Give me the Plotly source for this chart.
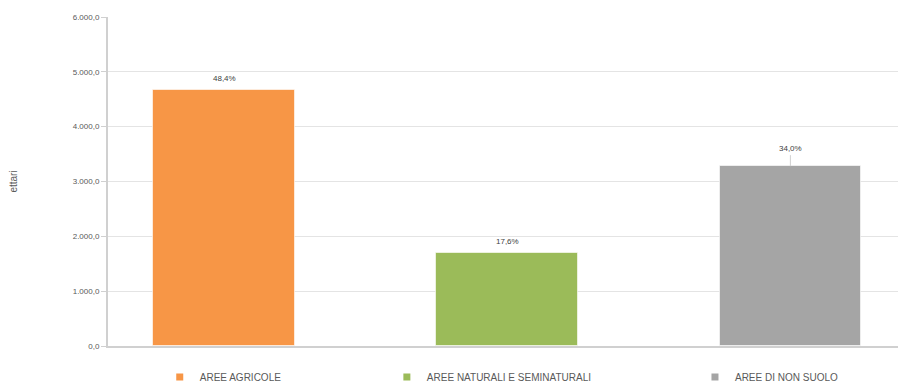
import plotly.graph_objects as go

categories = ["AREE AGRICOLE", "AREE NATURALI E SEMINATURALI", "AREE DI NON SUOLO"]
values = [4670, 1698, 3280]
pct_labels = ["48,4%", "17,6%", "34,0%"]
colors = ["#F79646", "#9BBB59", "#A5A5A5"]
y_ticks = [0, 1000, 2000, 3000, 4000, 5000, 6000]
legend_x = [0.0655, 0.353, 0.743]

FONT = "Liberation Sans, Arial, sans-serif"

fig = go.Figure()
for i, (cat, v, c) in enumerate(zip(categories, values, colors)):
    lg = "legend" if i == 0 else f"legend{i+1}"
    fig.add_trace(go.Bar(
        x=[i], y=[v], name=cat, width=0.5,
        marker=dict(color=c, line=dict(color="rgba(255,255,255,0.6)", width=1)),
        showlegend=False, legendgroup=cat,
    ))
    # legend entry with a small square symbol, as in the reference
    fig.add_trace(go.Scatter(
        x=[None], y=[None], mode="markers", name=cat, legend=lg, legendgroup=cat,
        marker=dict(symbol="square", size=7, color=c), showlegend=True,
    ))
    fig.add_annotation(
        x=i, y=v, text=pct_labels[i], xref="x", yref="y",
        showarrow=(i == 2), arrowhead=0, arrowcolor="#d0d0d0", arrowwidth=1,
        ax=0, ay=-11 if i == 2 else 0, yshift=0 if i == 2 else 11,
        yanchor="bottom" if i == 2 else "middle",
        font=dict(size=8, color="#404040", family=FONT),
    )

legend_common = dict(orientation="h", yanchor="middle", xanchor="left", y=-0.094,
                     font=dict(size=10, color="#595959", family=FONT),
                     bgcolor="rgba(0,0,0,0)", itemwidth=30)
layout_legends = {}
for i in range(3):
    key = "legend" if i == 0 else f"legend{i+1}"
    layout_legends[key] = dict(legend_common, x=legend_x[i])

fig.update_layout(
    width=898, height=384,
    margin=dict(l=108, r=0, t=17, b=38, autoexpand=False),
    plot_bgcolor="white", paper_bgcolor="white",
    separators=",.",
    bargap=0,
    xaxis=dict(range=[-0.41, 2.38], showticklabels=False, showgrid=False,
               zeroline=False, showline=True, linecolor="#d0d0d0", linewidth=2,
               ticks="", automargin=False),
    yaxis=dict(range=[0, 6000], tickvals=y_ticks, tickformat=",.1f",
               showgrid=True, gridcolor="#e4e4e4", gridwidth=1,
               showline=True, linecolor="#d0d0d0", linewidth=2,
               ticks="outside", ticklen=5, tickcolor="#d0d0d0",
               zeroline=False, automargin=False,
               tickfont=dict(size=8, color="#595959", family=FONT),
               title=dict(text="ettari", font=dict(size=10, color="#595959", family=FONT),
                          standoff=53)),
    **layout_legends,
)

fig.write_html("out.html", config={"displayModeBar": False},
               post_script="document.body.style.margin='0';document.body.style.overflow='hidden';")
